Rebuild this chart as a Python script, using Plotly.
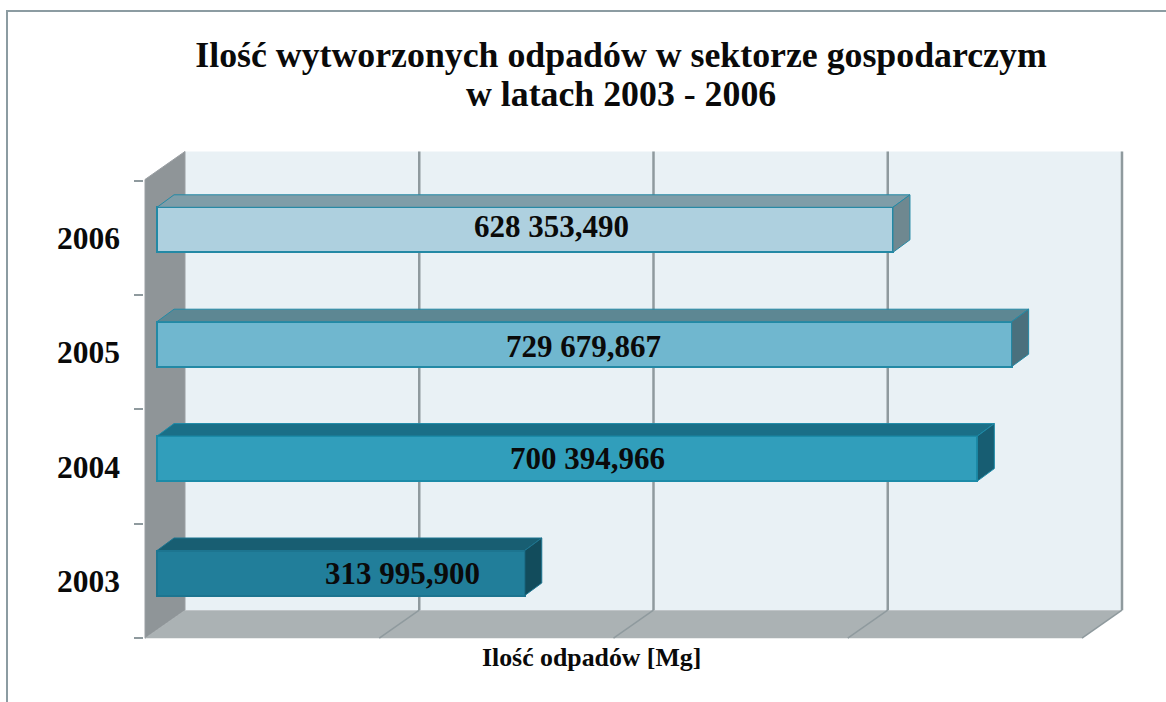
import plotly.graph_objects as go

# ---- data ----
years = [2003, 2004, 2005, 2006]
values = [313995.900, 700394.966, 729679.867, 628353.490]
labels = ["313 995,900", "700 394,966", "729 679,867", "628 353,490"]
grid_values = [200000, 400000, 600000, 800000]
title_line_1 = "Ilość wytworzonych odpadów w sektorze gospodarczym"
title_line_2 = "w latach 2003 - 2006"
axis_title = "Ilość odpadów [Mg]"

# ---- styles ----
front_colors = ["#217E9A", "#319EBB", "#70B7CF", "#AED0DF"]
top_colors = ["#185E72", "#1A6F87", "#5D8793", "#7F9DA8"]
side_colors = ["#124C5C", "#175D72", "#4A707D", "#6F8890"]
edge_colors = ["#1D7590", "#1C8BA8", "#2389A5", "#2389A5"]
FONT = "Liberation Serif"
INK = "#0A0A0A"

# ---- geometry of the pseudo-3D box, in pixels on screen ----
W, H = 1166, 702
L, R, T, B = 144, 41, 150, 62
PX_PER_VALUE = 234.25 / 200000
PX_PER_YEAR = 114.4
ZERO_PX = 157          # where value 0 falls on the front of the bars
CENTER_2003_PX = 573   # vertical centre of the 2003 bar
WALL_FRONT = -12       # front edge of the box relative to value 0
DEPTH = (40, 28)       # full depth of the box
BAR_DEPTH = (17, 12.5) # depth of a bar
BAR_PX = 45
TOP_YEAR = 2006.44
FLOOR_YEAR = 2002.43


def dv(px):
    return px / PX_PER_VALUE


def dy(px):
    return px / PX_PER_YEAR


x_range = [dv(L - ZERO_PX), dv(W - R - ZERO_PX)]
y_range = [2003 - dy(H - B - CENTER_2003_PX), 2003 + dy(CENTER_2003_PX - T)]


def path(points):
    return "M " + " L ".join(f"{a},{b}" for a, b in points) + " Z"


wall_x0 = dv(WALL_FRONT)
back_x0 = wall_x0 + dv(DEPTH[0])
back_floor = FLOOR_YEAR + dy(DEPTH[1])
back_top = TOP_YEAR + dy(DEPTH[1])
span = grid_values[-1]

shapes = [
    # page frame
    dict(type="rect", xref="paper", yref="paper",
         x0=(7 - L) / (W - L - R), x1=(W + 20 - L) / (W - L - R),
         y0=(H - B - (H + 20)) / (H - T - B), y1=(H - B - 11) / (H - T - B),
         line=dict(color="#8C9CA2", width=2), fillcolor="#FFFFFF", layer="below"),
    # back wall
    dict(type="path", layer="below", line=dict(width=0), fillcolor="#E9F1F5",
         path=path([(back_x0, back_floor), (back_x0, back_top),
                    (back_x0 + span, back_top), (back_x0 + span, back_floor)])),
    # side wall
    dict(type="path", layer="below", line=dict(color="#9A9FA3", width=1), fillcolor="#8F9598",
         path=path([(wall_x0, FLOOR_YEAR), (wall_x0, TOP_YEAR),
                    (back_x0, back_top), (back_x0, back_floor)])),
    # floor
    dict(type="path", layer="below", line=dict(width=0), fillcolor="#ABB2B4",
         path=path([(wall_x0, FLOOR_YEAR), (back_x0, back_floor),
                    (back_x0 + span, back_floor), (wall_x0 + span, FLOOR_YEAR)])),
]
for g in grid_values:
    shapes.append(dict(type="line", layer="below", x0=back_x0 + g, x1=back_x0 + g,
                       y0=back_floor, y1=back_top,
                       line=dict(color="#8F9A9E", width=2.5)))
    shapes.append(dict(type="line", layer="below", x0=wall_x0 + g, x1=back_x0 + g,
                       y0=FLOOR_YEAR, y1=back_floor,
                       line=dict(color="#8F9A9E", width=1.5)))

fig = go.Figure()

half = dy(BAR_PX) / 2
bx, by = dv(BAR_DEPTH[0]), dy(BAR_DEPTH[1])

fig.add_trace(go.Bar(
    y=years, x=values, orientation="h", width=dy(BAR_PX),
    marker=dict(color=front_colors, line=dict(color=edge_colors, width=2)),
    hoverinfo="skip", showlegend=False,
))

for yr, v, tc, sc, ec in zip(years, values, top_colors, side_colors, edge_colors):
    fig.add_trace(go.Scatter(
        x=[0, bx, v + bx, v, 0], y=[yr + half, yr + half + by, yr + half + by, yr + half, yr + half],
        mode="lines", fill="toself", fillcolor=tc, line=dict(color=ec, width=1),
        hoverinfo="skip", showlegend=False,
    ))
    fig.add_trace(go.Scatter(
        x=[v, v + bx, v + bx, v, v], y=[yr + half, yr + half + by, yr - half + by, yr - half, yr + half],
        mode="lines", fill="toself", fillcolor=sc, line=dict(color=ec, width=1),
        hoverinfo="skip", showlegend=False,
    ))

label_centers_px = [402, 587, 583, 551]
label_shift_px = [0, 0, -2, 3]
annotations = [
    dict(x=dv(px - ZERO_PX), y=yr, yshift=s, text=t, showarrow=False, xanchor="center",
         yanchor="middle", font=dict(family=FONT, size=31, color=INK, weight="bold"))
    for px, yr, s, t in zip(label_centers_px, years, label_shift_px, labels)
]
annotations.append(dict(
    x=dv(591 - ZERO_PX), y=FLOOR_YEAR, yshift=-19, text=axis_title, showarrow=False,
    xanchor="center", yanchor="middle", font=dict(family=FONT, size=25.8, color=INK, weight="bold"),
))
annotations.append(dict(
    xref="paper", yref="paper", x=(621 - L) / (W - L - R), y=(H - B - 94) / (H - T - B),
    text=title_line_2, showarrow=False, xanchor="center", yanchor="middle",
    font=dict(family=FONT, size=35.8, color=INK, weight="bold"),
))

fig.update_layout(
    width=W, height=H,
    margin=dict(l=L, r=R, t=T, b=B, pad=0),
    paper_bgcolor="#FFFFFF", plot_bgcolor="rgba(0,0,0,0)",
    title=dict(text=title_line_1, x=621 / W, xanchor="center", xref="container",
               y=1 - 54 / H, yanchor="middle",
               font=dict(family=FONT, size=35.8, color=INK, weight="bold")),
    bargap=0, barmode="overlay",
    shapes=shapes, annotations=annotations, showlegend=False,
    xaxis=dict(range=x_range, showgrid=False, zeroline=False, showline=False,
               showticklabels=False, ticks=""),
    yaxis=dict(range=y_range, showgrid=False, zeroline=False, showline=False,
               tickmode="array", tickvals=years, ticktext=[str(y) for y in years],
               ticks="", ticklabelstandoff=23, ticklabelshift=8,
               tickfont=dict(family=FONT, size=31.5, color=INK, weight="bold"),
               minor=dict(tickmode="array", tickvals=[FLOOR_YEAR + i for i in range(5)],
                          ticks="outside", ticklen=9, tickcolor="#8F9A9E", tickwidth=2)),
)

fig.write_html("out.html", config=dict(displayModeBar=False),
               post_script="document.body.style.margin='0';")
